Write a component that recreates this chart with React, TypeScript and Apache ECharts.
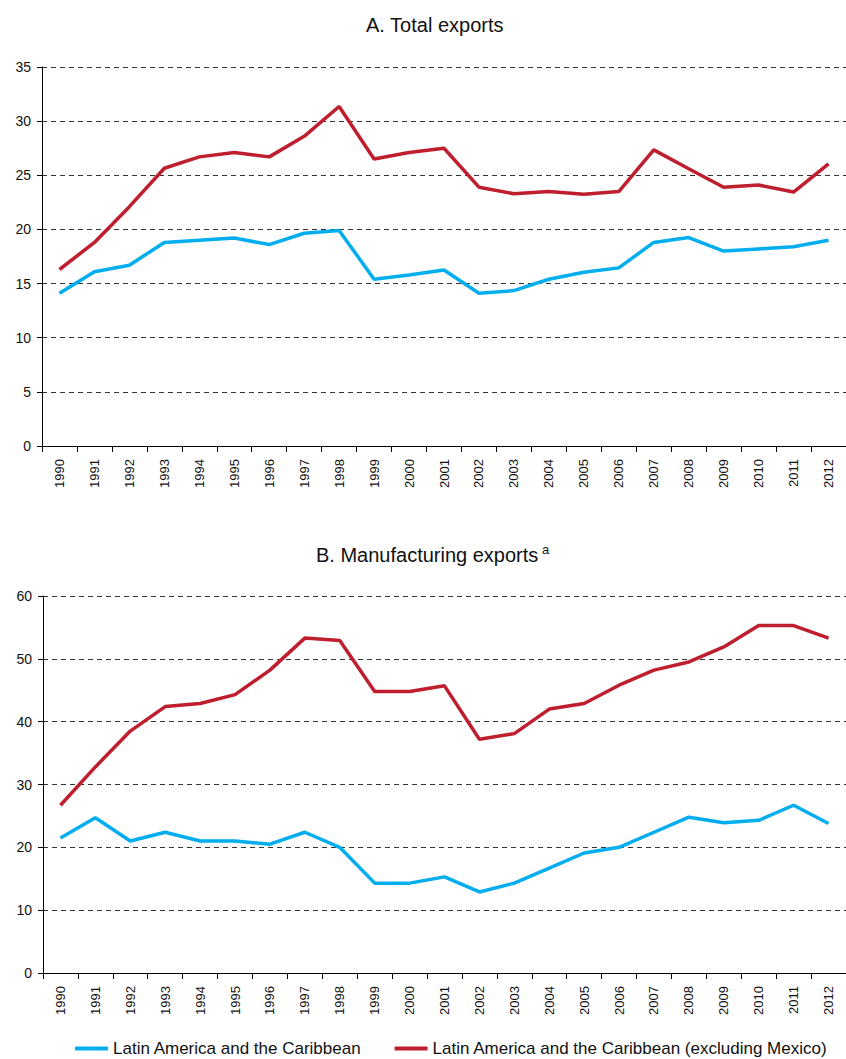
import React, { useEffect, useRef } from "react";
import * as echarts from "echarts";

const years = ["1990","1991","1992","1993","1994","1995","1996","1997","1998","1999","2000","2001","2002","2003","2004","2005","2006","2007","2008","2009","2010","2011","2012"];

const totalLAC = [14.1,16.1,16.7,18.8,19.0,19.2,18.6,19.65,19.9,15.4,15.8,16.25,14.1,14.35,15.4,16.05,16.45,18.8,19.25,18.0,18.2,18.4,19.0];
const totalExMex = [16.3,18.8,22.1,25.65,26.7,27.1,26.7,28.6,31.35,26.5,27.1,27.5,23.9,23.3,23.5,23.25,23.5,27.35,25.6,23.9,24.1,23.45,26.05];
const manufLAC = [21.5,24.7,21.0,22.4,21.0,21.0,20.5,22.4,20.0,14.3,14.3,15.3,12.9,14.3,16.7,19.1,20.0,22.4,24.8,23.9,24.3,26.7,23.8];
const manufExMex = [26.7,32.8,38.5,42.4,42.9,44.3,48.2,53.3,52.9,44.8,44.8,45.7,37.2,38.1,42.0,42.9,45.8,48.2,49.5,51.9,55.3,55.3,53.3];

const nameLAC = "Latin America and the Caribbean";
const nameExMex = "Latin America and the Caribbean (excluding Mexico)";
const titleA = "A. Total exports";
const titleB = "B. Manufacturing exports";

const BLUE = "#00AEEF";
const RED = "#BE1E2D";
const FONT = "Liberation Sans, Arial, sans-serif";

export default function App() {
  const ref = useRef<HTMLDivElement>(null);
  useEffect(() => {
    if (!ref.current) return;
    const chart = echarts.init(ref.current, null, { renderer: "svg" });
    const xAxisBase = (gridIndex: number) => ({
      type: "category",
      gridIndex,
      data: years,
      boundaryGap: true,
      axisLine: { show: true, lineStyle: { color: "#000", width: 1 } },
      axisTick: { show: true, alignWithLabel: false, length: 6, lineStyle: { color: "#000" } },
      axisLabel: { rotate: 90, fontSize: 13, color: "#111", fontFamily: FONT, margin: 13, interval: 0 },
      splitLine: { show: false },
    });
    const yAxisBase = (gridIndex: number, max: number, interval: number) => ({
      type: "value",
      gridIndex,
      min: 0,
      max,
      interval,
      axisLine: { show: true, lineStyle: { color: "#000", width: 1 } },
      axisTick: { show: true, length: 5, lineStyle: { color: "#000" } },
      axisLabel: { fontSize: 14, color: "#111", fontFamily: FONT, margin: 11 },
      splitLine: { show: true, lineStyle: { color: "#333", type: [5, 4], width: 1 } },
    });
    const lineSeries = (name: string, data: number[], color: string, idx: number) => ({
      type: "line",
      name,
      data,
      xAxisIndex: idx,
      yAxisIndex: idx,
      symbol: "none",
      lineStyle: { color, width: 3.5 },
      itemStyle: { color },
      z: color === RED ? 3 : 2,
    });
    chart.setOption({
      animation: false,
      backgroundColor: "#fff",
      title: [
        {
          text: titleA,
          left: 361,
          top: 10,
          textStyle: { fontSize: 20, fontWeight: "normal", color: "#111", fontFamily: FONT },
        },
        {
          text: "{m|" + titleB + "}{s| a}",
          left: 311,
          top: 538,
          textStyle: {
            fontSize: 20,
            fontWeight: "normal",
            color: "#111",
            fontFamily: FONT,
            rich: {
              m: { fontSize: 20, color: "#111", fontFamily: FONT },
              s: { fontSize: 13, color: "#111", fontFamily: FONT, verticalAlign: "top", padding: [0, 0, 10, 0] },
            },
          },
        },
      ],
      legend: {
        top: 1035,
        left: 70,
        itemWidth: 33,
        itemHeight: 4,
        itemGap: 33,
        icon: "roundRect",
        textStyle: { fontSize: 17, color: "#111", fontFamily: FONT },
        data: [nameLAC, nameExMex],
      },
      grid: [
        { left: 42, top: 67, width: 812, height: 379 },
        { left: 43, top: 596, width: 811, height: 377 },
      ],
      xAxis: [xAxisBase(0), xAxisBase(1)],
      yAxis: [yAxisBase(0, 35, 5), yAxisBase(1, 60, 10)],
      series: [
        lineSeries(nameLAC, totalLAC, BLUE, 0),
        lineSeries(nameExMex, totalExMex, RED, 0),
        lineSeries(nameLAC, manufLAC, BLUE, 1),
        lineSeries(nameExMex, manufExMex, RED, 1),
      ],
    });
    return () => chart.dispose();
  }, []);
  return (
    <div
      ref={ref}
      style={{ position: "fixed", left: 0, top: 0, width: 846, height: 1059, background: "#fff" }}
    />
  );
}
